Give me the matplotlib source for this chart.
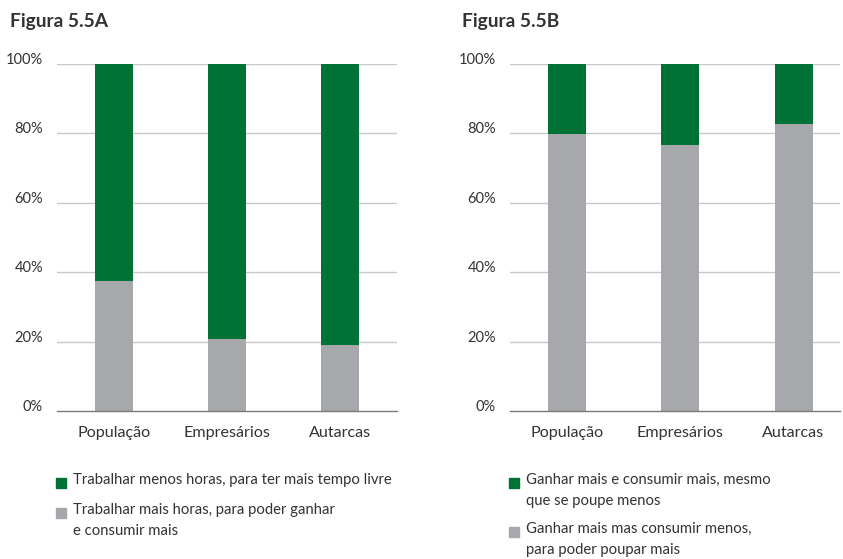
import matplotlib.pyplot as plt
from matplotlib.patches import Rectangle
from matplotlib.ticker import PercentFormatter

plt.rcParams['font.family'] = ['Lato', 'DejaVu Sans']

categories = ['População', 'Empresários', 'Autarcas']

# Figura 5.5A
a_mais_horas = [37.5, 20.7, 19.0]
a_menos_horas = [62.5, 79.3, 81.0]
a_labels = ['Trabalhar menos horas, para ter mais tempo livre',
            'Trabalhar mais horas, para poder ganhar\ne consumir mais']

# Figura 5.5B
b_poupar = [79.8, 76.7, 82.7]
b_consumir = [20.2, 23.3, 17.3]
b_labels = ['Ganhar mais e consumir mais, mesmo\nque se poupe menos',
            'Ganhar mais mas consumir menos,\npara poder poupar mais']

GREEN = '#007236'
GREY = '#a7a8ab'
TXT = '#333333'
W, H = 843, 559

fig = plt.figure(figsize=(W / 100, H / 100), dpi=100)


def px(x, y):
    return x / W, 1 - y / H


def panel(left, right, bottom_vals, top_vals, xmax):
    x0, y0 = px(left, 411)
    x1, y1 = px(right, 64)
    ax = fig.add_axes([x0, y0, x1 - x0, y1 - y0])
    xs = range(len(categories))
    ax.bar(xs, bottom_vals, width=0.335, color=GREY, zorder=2)
    ax.bar(xs, top_vals, width=0.335, bottom=bottom_vals, color=GREEN, zorder=2)
    ax.set_xlim(-0.5, xmax)
    ax.set_ylim(0, 100)
    ax.set_yticks(range(0, 101, 20))
    ax.yaxis.set_major_formatter(PercentFormatter(decimals=0))
    ax.set_xticks(list(xs))
    ax.set_xticklabels(categories, fontsize=11.6, color=TXT)
    ax.tick_params(axis='y', length=0, pad=10, labelsize=10.5, labelcolor=TXT)
    ax.tick_params(axis='x', length=0, pad=11)
    for v in range(20, 101, 20):
        ax.axhline(v, color='#c8c8c8', lw=1, zorder=1)
    for s in ['top', 'right', 'left']:
        ax.spines[s].set_visible(False)
    ax.spines['bottom'].set_color('#7a7a7a')
    ax.spines['bottom'].set_linewidth(1)
    for lab in ax.get_yticklabels():
        lab.set_verticalalignment('baseline')
    return ax


panel(57, 397, a_mais_horas, a_menos_horas, 2.5)
panel(510, 840, b_poupar, b_consumir, 2.41)

fig.text(*px(10, 27), 'Figura 5.5A', fontsize=13.8, fontweight='bold', color=TXT)
fig.text(*px(462, 27), 'Figura 5.5B', fontsize=13.8, fontweight='bold', color=TXT)


def legend_item(x, y, color, label):
    sx, sy = px(x, y + 5)
    fig.add_artist(Rectangle((sx, sy), 10 / W, 10 / H, color=color,
                             transform=fig.transFigure))
    fig.text(*px(x + 17, y - 10), label, fontsize=10.7, color=TXT,
             va='top', linespacing=1.68)


legend_item(56, 483, GREEN, a_labels[0])
legend_item(56, 513, GREY, a_labels[1])
legend_item(509, 483, GREEN, b_labels[0])
legend_item(509, 532, GREY, b_labels[1])

fig.savefig('out.png', dpi=100)
